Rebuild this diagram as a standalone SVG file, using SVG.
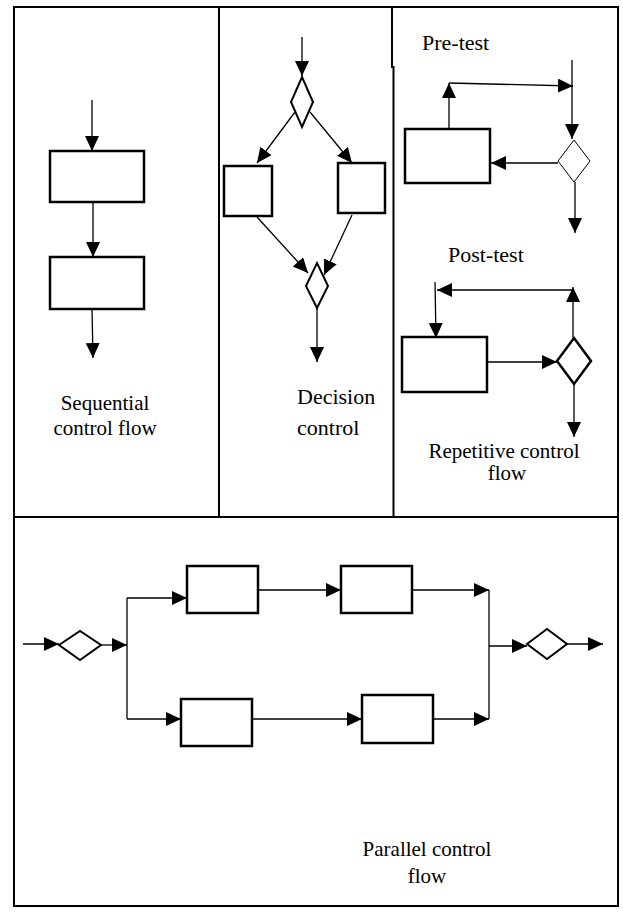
<svg xmlns="http://www.w3.org/2000/svg" width="623" height="912" viewBox="0 0 623 912">
  <style>
    .frame { fill: none; stroke: #000; stroke-width: 2; }
    .box { fill: #fff; stroke: #000; stroke-width: 2.5; }
    .dia { fill: #fff; stroke: #000; stroke-width: 2; }
    .dia-thin { fill: #fff; stroke: #000; stroke-width: 1; }
    .wire { fill: none; stroke: #000; stroke-width: 1.3; }
    .arr { fill: none; stroke: #000; stroke-width: 1.3; marker-end: url(#head); }
    .lbl { font-family: "Liberation Serif", "Times New Roman", serif; font-size: 21px; fill: #000; }
  </style>
  <defs>
    <marker id="head" markerUnits="userSpaceOnUse" markerWidth="16" markerHeight="15" refX="15" refY="7" orient="auto">
      <path d="M0,0 L15,7 L0,14 z" fill="#000"/>
    </marker>
  </defs>
  <rect width="623" height="912" fill="#fff"/>

  <!-- table frame -->
  <g id="frame">
    <rect class="frame" x="14" y="7" width="604" height="899"/>
    <line class="frame" x1="219" y1="7" x2="219" y2="517"/>
    <line class="frame" x1="392" y1="7" x2="392" y2="68"/>
    <line class="frame" x1="393.5" y1="66" x2="393.5" y2="517"/>
    <line class="frame" x1="14" y1="517" x2="618" y2="517"/>
  </g>

  <!-- sequential control flow -->
  <g id="seq-box1"><rect class="box" x="50" y="151" width="94" height="51"/></g>
  <g id="seq-box2"><rect class="box" x="50" y="257" width="94" height="52"/></g>
  <g id="seq-label">
    <text class="lbl" x="105" y="410" text-anchor="middle">Sequential</text>
    <text class="lbl" x="105" y="435" text-anchor="middle">control flow</text>
  </g>

  <!-- decision control -->
  <g id="dec-split"><polygon class="dia" points="302,77 313,102 302,127 291,102"/></g>
  <g id="dec-left"><rect class="box" x="224" y="166" width="48" height="50"/></g>
  <g id="dec-right"><rect class="box" x="338" y="163" width="47" height="50"/></g>
  <g id="dec-merge"><polygon class="dia" points="317,263 328,286 317,308 306,286"/></g>
  <g id="dec-label">
    <text class="lbl" x="297" y="404" style="font-size:22px">Decision</text>
    <text class="lbl" x="297" y="435" style="font-size:22px">control</text>
  </g>

  <!-- repetitive control flow: pre-test -->
  <g id="pre-label"><text class="lbl" x="422" y="50" style="font-size:22px">Pre-test</text></g>
  <g id="pre-box"><rect class="box" x="405" y="129" width="85" height="54"/></g>
  <g id="pre-test"><polygon class="dia-thin" points="574,140 590,161 574,182 558,161"/></g>

  <!-- repetitive control flow: post-test -->
  <g id="post-label"><text class="lbl" x="448" y="262" style="font-size:22px">Post-test</text></g>
  <g id="post-box"><rect class="box" x="402" y="337" width="85" height="55"/></g>
  <g id="post-test"><polygon class="dia" style="stroke-width:2.5" points="574,338 591,361 574,384 557,361"/></g>
  <g id="rep-label">
    <text class="lbl" x="504" y="458" text-anchor="middle">Repetitive control</text>
    <text class="lbl" x="507" y="480" text-anchor="middle">flow</text>
  </g>

  <!-- parallel control flow -->
  <g id="par-fork"><polygon class="dia" points="59,645 80,631 101,645 80,660"/></g>
  <g id="par-a1"><rect class="box" x="187" y="566" width="71" height="47"/></g>
  <g id="par-a2"><rect class="box" x="341" y="566" width="71" height="47"/></g>
  <g id="par-b1"><rect class="box" x="181" y="699" width="71" height="47"/></g>
  <g id="par-b2"><rect class="box" x="362" y="695" width="71" height="48"/></g>
  <g id="par-join"><polygon class="dia" points="527,644 547,629 567,644 547,659"/></g>
  <g id="par-label">
    <text class="lbl" x="427" y="856" text-anchor="middle">Parallel control</text>
    <text class="lbl" x="427" y="883" text-anchor="middle">flow</text>
  </g>

  <!-- connectors -->
  <g id="connectors">
    <!-- sequential -->
    <line class="arr" x1="92" y1="100" x2="92" y2="151"/>
    <line class="arr" x1="93" y1="202" x2="93" y2="257"/>
    <line class="arr" x1="92" y1="309" x2="93" y2="358"/>

    <!-- decision -->
    <line class="arr" x1="302" y1="37" x2="302" y2="76"/>
    <line class="arr" x1="295" y1="112" x2="257" y2="163"/>
    <line class="arr" x1="310" y1="112" x2="352" y2="163"/>
    <line class="arr" x1="257" y1="217" x2="308" y2="273"/>
    <line class="arr" x1="352" y1="215" x2="324" y2="275"/>
    <line class="arr" x1="317" y1="308" x2="317" y2="362"/>

    <!-- pre-test loop -->
    <line class="arr" x1="572" y1="60" x2="572" y2="139"/>
    <line class="arr" x1="449" y1="129" x2="449" y2="83"/>
    <line class="arr" x1="449" y1="83" x2="573" y2="86"/>
    <line class="arr" x1="558" y1="163" x2="491" y2="163"/>
    <line class="arr" x1="575" y1="182" x2="575" y2="233"/>

    <!-- post-test loop -->
    <line class="arr" x1="573" y1="338" x2="573" y2="287"/>
    <line class="arr" x1="573" y1="290" x2="437" y2="290"/>
    <line class="arr" x1="435" y1="282" x2="436" y2="338"/>
    <line class="arr" x1="487" y1="362" x2="557" y2="362"/>
    <line class="arr" x1="574" y1="384" x2="574" y2="437"/>

    <!-- parallel -->
    <line class="arr" x1="23" y1="644" x2="59" y2="644"/>
    <line class="arr" x1="101" y1="645" x2="127" y2="645"/>
    <line class="wire" x1="127" y1="598" x2="127" y2="719"/>
    <line class="arr" x1="127" y1="598" x2="187" y2="598"/>
    <line class="arr" x1="127" y1="719" x2="181" y2="719"/>
    <line class="arr" x1="258" y1="590" x2="341" y2="590"/>
    <line class="arr" x1="252" y1="719" x2="362" y2="719"/>
    <line class="arr" x1="412" y1="590" x2="489" y2="590"/>
    <line class="arr" x1="433" y1="719" x2="489" y2="719"/>
    <line class="wire" x1="489" y1="590" x2="489" y2="719"/>
    <line class="arr" x1="489" y1="646" x2="527" y2="646"/>
    <line class="arr" x1="567" y1="644" x2="603" y2="644"/>
  </g>
</svg>
